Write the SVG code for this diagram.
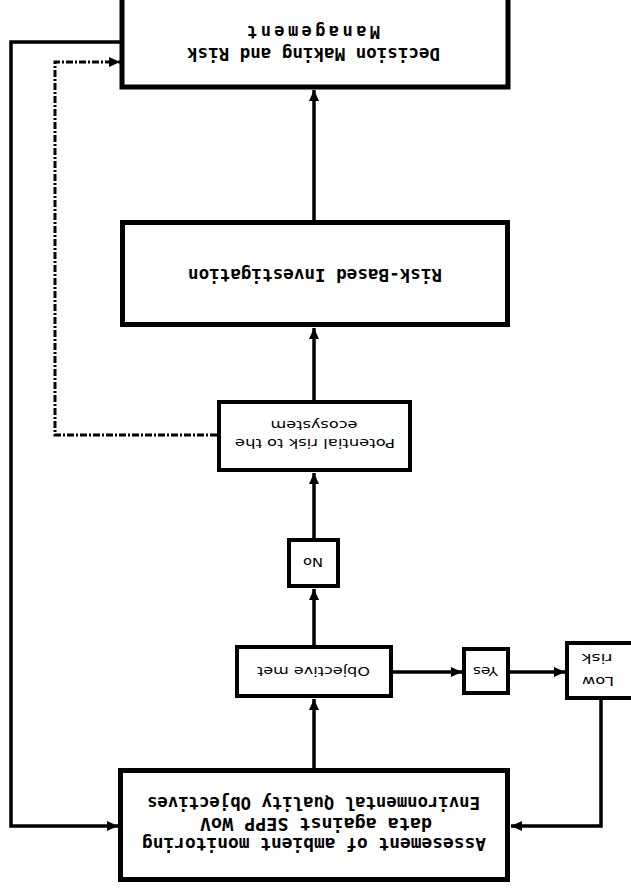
<svg xmlns="http://www.w3.org/2000/svg" width="631" height="888" viewBox="0 0 631 888">
<defs>
<marker id="ah" markerUnits="userSpaceOnUse" markerWidth="12" markerHeight="10" refX="11" refY="5" orient="auto">
<path d="M0,0 L11,5 L0,10 z" fill="#000"/>
</marker>
<style>
.box{fill:#fff;stroke:#000;stroke-width:5}
.sbox{fill:#fff;stroke:#000;stroke-width:4}
.b{font-family:"DejaVu Sans Mono","Liberation Mono",monospace;font-weight:bold;font-size:17px;text-anchor:middle;fill:#000}
.r{font-family:"DejaVu Sans","Liberation Sans",sans-serif;font-size:13px;text-anchor:middle;fill:#000}
.c{fill:none;stroke:#000;stroke-width:3.5}
.d{fill:none;stroke:#000;stroke-width:3;stroke-dasharray:7,2,2,2}
</style>
</defs>
<rect width="631" height="888" fill="#fff"/>
<g id="connectors">
<line class="c" x1="314" y1="768" x2="314" y2="699" marker-end="url(#ah)"/>
<line class="c" x1="314" y1="645" x2="314" y2="589" marker-end="url(#ah)"/>
<line class="c" x1="314" y1="538" x2="314" y2="473" marker-end="url(#ah)"/>
<line class="c" x1="314" y1="400" x2="314" y2="328" marker-end="url(#ah)"/>
<line class="c" x1="314" y1="220" x2="314" y2="90" marker-end="url(#ah)"/>
<line class="c" x1="393" y1="672" x2="462" y2="672" marker-end="url(#ah)"/>
<line class="c" x1="510" y1="672" x2="565" y2="672" marker-end="url(#ah)"/>
<polyline class="c" points="601,700 601,826 511,826" marker-end="url(#ah)"/>
<polyline class="c" points="120,42 11,42 11,826 118,826" marker-end="url(#ah)"/>
<polyline class="d" points="217,435 55,435 55,62 120,62" marker-end="url(#ah)"/>
</g>
<g id="decision">
<rect class="box" x="122" y="-5" width="386" height="92"/>
<g transform="rotate(180 313.5 42.5)">
<text class="b" x="313.5" y="37.5" textLength="253" lengthAdjust="spacingAndGlyphs">Decision Making and Risk</text>
<text class="b" x="313.5" y="59.5" textLength="133" lengthAdjust="spacing">Management</text>
</g>
</g>
<g id="riskbased">
<rect class="box" x="122.5" y="222.5" width="385" height="102"/>
<text class="b" x="315" y="281" transform="rotate(180 315 275)" textLength="254" lengthAdjust="spacingAndGlyphs">Risk-Based Investigation</text>
</g>
<g id="potential">
<rect class="sbox" x="219" y="402" width="191" height="68"/>
<g transform="rotate(180 315 434)">
<text class="r" x="315" y="429" textLength="160" lengthAdjust="spacingAndGlyphs">Potential risk to the</text>
<text class="r" x="316" y="447" textLength="87" lengthAdjust="spacingAndGlyphs">ecosystem</text>
</g>
</g>
<g id="no">
<rect class="sbox" x="289" y="540" width="49" height="46"/>
<text class="r" x="313" y="568" transform="rotate(180 313 563)" textLength="20" lengthAdjust="spacingAndGlyphs">No</text>
</g>
<g id="objective">
<rect class="sbox" x="237" y="647" width="154" height="49"/>
<text class="r" x="313.5" y="677" transform="rotate(180 313.5 672)" textLength="113" lengthAdjust="spacingAndGlyphs">Objective met</text>
</g>
<g id="yes">
<rect class="sbox" x="464" y="649" width="44" height="44"/>
<text class="r" x="485.5" y="677" transform="rotate(180 485.5 672)" textLength="25" lengthAdjust="spacingAndGlyphs">Yes</text>
</g>
<g id="lowrisk">
<rect class="sbox" x="567" y="643" width="80" height="55"/>
<g transform="rotate(180 598 670.5)">
<text class="r" x="598" y="664" textLength="32" lengthAdjust="spacingAndGlyphs">Low</text>
<text class="r" x="599" y="687" textLength="31" lengthAdjust="spacingAndGlyphs">risk</text>
</g>
</g>
<g id="assessment">
<rect class="box" x="120.5" y="770.5" width="387" height="109"/>
<g transform="rotate(180 314.5 823.5)">
<text class="b" x="315" y="809" textLength="344" lengthAdjust="spacingAndGlyphs">Assesement of ambient monitoring</text>
<text class="b" x="313" y="829" textLength="232" lengthAdjust="spacingAndGlyphs">data against SEPP WoV</text>
<text class="b" x="315.5" y="850" textLength="333" lengthAdjust="spacingAndGlyphs">Environmental Quality Objectives</text>
</g>
</g>
</svg>
